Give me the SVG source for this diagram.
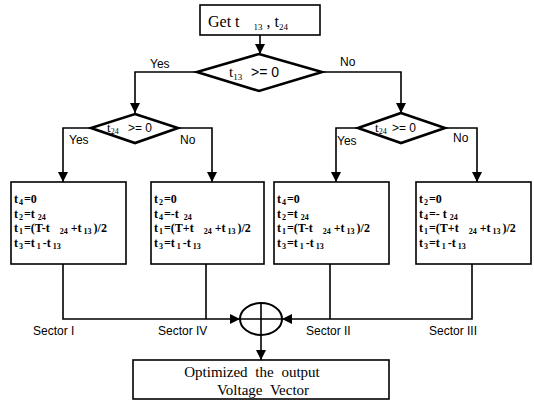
<svg xmlns="http://www.w3.org/2000/svg" width="534" height="401" viewBox="0 0 534 401">
<style>
.box{fill:#fff;stroke:#000;stroke-width:1.6}
.dia{fill:#fff;stroke:#000;stroke-width:2.6}
.ln{fill:none;stroke:#000;stroke-width:1.6}
.lbl{font-family:"Liberation Sans",Arial,sans-serif;font-size:12px;fill:#000}
.ser{font-family:"Liberation Serif","Times New Roman",serif;fill:#000}
.bt{font-family:"Liberation Serif","Times New Roman",serif;font-size:12px;font-weight:bold;fill:#000}
.sub{font-size:8px}
</style>
<defs>
<marker id="ah" markerUnits="userSpaceOnUse" markerWidth="10" markerHeight="10" refX="10" refY="5" orient="auto">
<path d="M0,0 L10,5 L0,10 z" fill="#000"/>
</marker>
</defs>
<rect width="534" height="401" fill="#fff"/>
<g id="connectors">
<path class="ln" d="M260,35 V54" marker-end="url(#ah)"/>
<path class="ln" d="M197,72 H135 V113" marker-end="url(#ah)"/>
<path class="ln" d="M322,72 H401 V113" marker-end="url(#ah)"/>
<path class="ln" d="M91,128 H63 V182" marker-end="url(#ah)"/>
<path class="ln" d="M178,128 H212 V182" marker-end="url(#ah)"/>
<path class="ln" d="M358,128 H336 V182" marker-end="url(#ah)"/>
<path class="ln" d="M445,128 H477 V182" marker-end="url(#ah)"/>
<path class="ln" d="M63,264 V319 H240" marker-end="url(#ah)"/>
<path class="ln" d="M206,264 V319"/>
<path class="ln" d="M472,264 V319 H282" marker-end="url(#ah)"/>
<path class="ln" d="M330,264 V319"/>
<path class="ln" d="M261,335 V360" marker-end="url(#ah)"/>
<text class="lbl" x="150" y="68">Yes</text>
<text class="lbl" x="340" y="66">No</text>
<text class="lbl" x="69" y="144">Yes</text>
<text class="lbl" x="180" y="144">No</text>
<text class="lbl" x="337" y="145">Yes</text>
<text class="lbl" x="453" y="142">No</text>
<text class="lbl" x="33" y="335">Sector I</text>
<text class="lbl" x="158" y="335">Sector IV</text>
<text class="lbl" x="306" y="335">Sector II</text>
<text class="lbl" x="429" y="335">Sector III</text>
</g>
<g id="start">
<rect class="box" x="200" y="5" width="120" height="30"/>
<text class="ser" x="208" y="27" font-size="16">Get  t<tspan font-size="9" dx="14" dy="3">13</tspan><tspan dy="-3"> , t</tspan><tspan font-size="9" dy="3">24</tspan></text>
</g>
<g id="dec1">
<polygon class="dia" points="259,54 322,72 259,91 197,72"/>
<text class="ser" x="229" y="77" font-size="15">t<tspan font-size="9" dy="3">13</tspan></text>
<text class="lbl" x="251" y="77" style="font-size:14px">&gt;= 0</text>
</g>
<g id="dec2">
<polygon class="dia" points="135,114 178,128 135,143 91,128"/>
<text class="ser" x="107" y="132" font-size="13">t<tspan font-size="8" dy="2">24</tspan></text>
<text class="lbl" x="128" y="132">&gt;= 0</text>
</g>
<g id="dec3">
<polygon class="dia" points="401,113 445,128 401,143 358,128"/>
<text class="ser" x="375" y="132" font-size="13">t<tspan font-size="8" dy="2">24</tspan></text>
<text class="lbl" x="392" y="132">&gt;= 0</text>
</g>
<g id="box1">
<rect class="box" x="11" y="182" width="115" height="82"/>
<text class="bt" x="14" y="203">t<tspan class="sub" dx="1" dy="2">4</tspan><tspan dy="-2" dx="1">=0</tspan></text>
<text class="bt" x="14" y="217.5">t<tspan class="sub" dx="1" dy="2">2</tspan><tspan dy="-2" dx="1">=t</tspan><tspan class="sub" dx="3" dy="2">24</tspan></text>
<text class="bt" x="14" y="232">t<tspan class="sub" dx="1" dy="2">1</tspan><tspan dy="-2" dx="1">=(T-t</tspan><tspan class="sub" dx="10" dy="2">24</tspan><tspan dy="-2" dx="3">+t</tspan><tspan class="sub" dx="2" dy="2">13</tspan><tspan dy="-2" dx="2">)/2</tspan></text>
<text class="bt" x="14" y="246.5">t<tspan class="sub" dx="1" dy="2">3</tspan><tspan dy="-2" dx="1">=t</tspan><tspan class="sub" dx="2" dy="2">1</tspan><tspan dy="-2" dx="2">-t</tspan><tspan class="sub" dx="2" dy="2">13</tspan></text>
</g>
<g id="box2">
<rect class="box" x="151" y="182" width="113" height="82"/>
<text class="bt" x="154" y="203">t<tspan class="sub" dx="1" dy="2">2</tspan><tspan dy="-2" dx="1">=0</tspan></text>
<text class="bt" x="154" y="217.5">t<tspan class="sub" dx="1" dy="2">4</tspan><tspan dy="-2" dx="1">=-t</tspan><tspan class="sub" dx="5" dy="2">24</tspan></text>
<text class="bt" x="154" y="232">t<tspan class="sub" dx="1" dy="2">1</tspan><tspan dy="-2" dx="1">=(T+t</tspan><tspan class="sub" dx="10" dy="2">24</tspan><tspan dy="-2" dx="3">+t</tspan><tspan class="sub" dx="2" dy="2">13</tspan><tspan dy="-2" dx="2">)/2</tspan></text>
<text class="bt" x="154" y="246.5">t<tspan class="sub" dx="1" dy="2">3</tspan><tspan dy="-2" dx="1">=t</tspan><tspan class="sub" dx="2" dy="2">1</tspan><tspan dy="-2" dx="2">-t</tspan><tspan class="sub" dx="2" dy="2">13</tspan></text>
</g>
<g id="box3">
<rect class="box" x="274" y="182" width="115" height="82"/>
<text class="bt" x="277" y="203">t<tspan class="sub" dx="1" dy="2">4</tspan><tspan dy="-2" dx="1">=0</tspan></text>
<text class="bt" x="277" y="217.5">t<tspan class="sub" dx="1" dy="2">2</tspan><tspan dy="-2" dx="1">=t</tspan><tspan class="sub" dx="3" dy="2">24</tspan></text>
<text class="bt" x="277" y="232">t<tspan class="sub" dx="1" dy="2">1</tspan><tspan dy="-2" dx="1">=(T-t</tspan><tspan class="sub" dx="10" dy="2">24</tspan><tspan dy="-2" dx="3">+t</tspan><tspan class="sub" dx="2" dy="2">13</tspan><tspan dy="-2" dx="2">)/2</tspan></text>
<text class="bt" x="277" y="246.5">t<tspan class="sub" dx="1" dy="2">3</tspan><tspan dy="-2" dx="1">=t</tspan><tspan class="sub" dx="2" dy="2">1</tspan><tspan dy="-2" dx="2">-t</tspan><tspan class="sub" dx="2" dy="2">13</tspan></text>
</g>
<g id="box4">
<rect class="box" x="416" y="182" width="115" height="82"/>
<text class="bt" x="419" y="203">t<tspan class="sub" dx="1" dy="2">2</tspan><tspan dy="-2" dx="1">=0</tspan></text>
<text class="bt" x="419" y="217.5">t<tspan class="sub" dx="1" dy="2">4</tspan><tspan dy="-2" dx="1">=- t</tspan><tspan class="sub" dx="3" dy="2">24</tspan></text>
<text class="bt" x="419" y="232">t<tspan class="sub" dx="1" dy="2">1</tspan><tspan dy="-2" dx="1">=(T+t</tspan><tspan class="sub" dx="10" dy="2">24</tspan><tspan dy="-2" dx="3">+t</tspan><tspan class="sub" dx="2" dy="2">13</tspan><tspan dy="-2" dx="2">)/2</tspan></text>
<text class="bt" x="419" y="246.5">t<tspan class="sub" dx="1" dy="2">3</tspan><tspan dy="-2" dx="1">=t</tspan><tspan class="sub" dx="2" dy="2">1</tspan><tspan dy="-2" dx="2">-t</tspan><tspan class="sub" dx="2" dy="2">13</tspan></text>
</g>
<g id="sum">
<ellipse cx="261" cy="319" rx="21" ry="16" fill="#fff" stroke="#000" stroke-width="2"/>
<path class="ln" d="M240,319 H282 M261,303 V335"/>
</g>
<g id="output">
<rect class="box" x="133" y="360" width="256" height="39"/>
<text class="ser" x="252" y="377" font-size="15" word-spacing="4" text-anchor="middle">Optimized the output</text>
<text class="ser" x="263" y="395" font-size="15" word-spacing="4" text-anchor="middle">Voltage Vector</text>
</g>
</svg>
